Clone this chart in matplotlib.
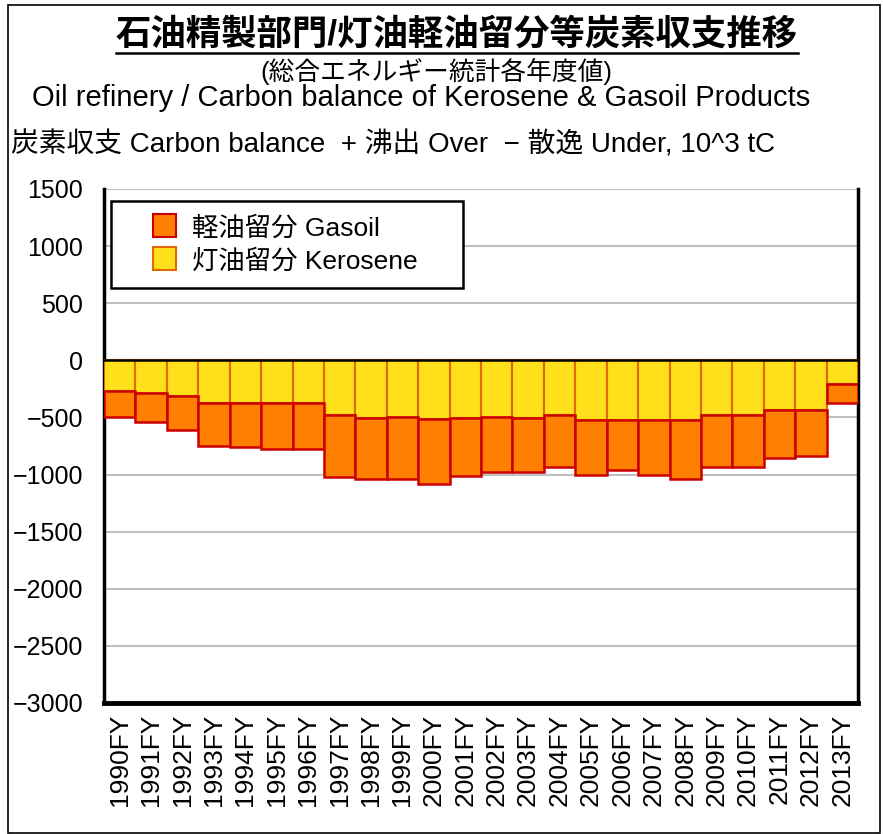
import matplotlib
matplotlib.use("Agg")
import matplotlib.pyplot as plt
from matplotlib.lines import Line2D
from matplotlib.patches import Rectangle

plt.rcParams['font.family'] = ['Liberation Sans', 'Noto Sans CJK JP']
plt.rcParams['axes.unicode_minus'] = True

years = [str(y) + "FY" for y in range(1990, 2014)]
# 灯油留分 (upper, yellow) and 軽油留分 (lower, orange), 10^3 tC
kerosene = [-270, -287, -310, -372, -372, -372, -372, -477, -501, -498, -516, -504,
            -498, -504, -477, -521, -521, -518, -521, -480, -480, -439, -439, -205]
gasoil = [-227, -255, -296, -381, -384, -401, -401, -542, -539, -542, -568, -513,
          -477, -471, -460, -481, -435, -484, -519, -457, -457, -416, -399, -167]
yticks = [1500, 1000, 500, 0, -500, -1000, -1500, -2000, -2500, -3000]
names = ['軽油留分 Gasoil', '灯油留分 Kerosene']
fills = ['#FF8000', '#FFE01A']
edges = ['#CC0000', '#E06A00']

W, H = 883, 834
fig = plt.figure(figsize=(8.83, 8.34), dpi=100)
ax = fig.add_axes([104/W, 1 - 703/H, (858 - 104)/W, (703 - 189)/H])

x = list(range(len(years)))
ax.bar(x, kerosene, width=1.0, color=fills[1], edgecolor=edges[1], linewidth=1.5, zorder=3)
ax.bar(x, gasoil, width=1.0, bottom=kerosene, color=fills[0], edgecolor=edges[0],
       linewidth=1.8, zorder=3)
ax.axhline(0, color='black', lw=1.8, zorder=4)

ax.set_xlim(-0.5, len(years) - 0.5)
ax.set_ylim(-3000, 1500)
ax.set_yticks(yticks)
ax.set_yticklabels([f"{v}".replace('-', '\u2212') for v in yticks], fontsize=18)
ax.set_xticks(x)
ax.set_xticklabels(years, rotation=90, fontsize=19)
ax.tick_params(axis='both', length=0)
ax.tick_params(axis='y', pad=15)
ax.tick_params(axis='x', pad=8)
ax.yaxis.grid(True, color='#C0C0C0', lw=1.5, zorder=0)
ax.set_axisbelow(True)

for s in ['left', 'right']:
    ax.spines[s].set_linewidth(2.5)
ax.spines['bottom'].set_linewidth(3.5)
ax.spines['top'].set_visible(False)

# legend box drawn by hand (pixel layout of the original)
def fx(px):
    return px / W

def fy(py):
    return 1 - py / H

fig.add_artist(Rectangle((fx(111), fy(288)), fx(463) - fx(111), fy(201) - fy(288),
                         facecolor='white', edgecolor='black', lw=1.8,
                         transform=fig.transFigure, zorder=5))
for i, (nm, fc, ec) in enumerate(zip(names, fills, edges)):
    top = 214 + i * 33
    fig.add_artist(Rectangle((fx(153), fy(top + 23)), fx(176) - fx(153), fy(top) - fy(top + 23),
                             facecolor=fc, edgecolor=ec, lw=1.5,
                             transform=fig.transFigure, zorder=6))
    fig.text(fx(192), fy(top + 14), nm, ha='left', va='center', fontsize=19, zorder=6)

t = fig.text(0.517, fy(35), '石油精製部門/灯油軽油留分等炭素収支推移', ha='center', va='center',
             fontsize=25.5, fontweight='bold')
fig.text(0.494, fy(71), '(総合エネルギー統計各年度値)', ha='center', va='center', fontsize=18.5)
fig.text(0.036, fy(98), 'Oil refinery / Carbon balance of Kerosene & Gasoil Products',
         ha='left', va='center', fontsize=21)
fig.text(0.012, fy(145), '炭素収支 Carbon balance  + 沸出 Over  \u2212 散逸 Under, 10^3 tC',
         ha='left', va='center', fontsize=20)

# underline the title
fig.canvas.draw()
bb = t.get_window_extent().transformed(fig.transFigure.inverted())
fig.add_artist(Line2D([bb.x0, bb.x1], [fy(53), fy(53)], color='black', lw=1.8))

# outer border
fig.add_artist(Rectangle((8/W, 1/H), 872/W, 828/H, fill=False, edgecolor='black',
                         lw=1.2, transform=fig.transFigure))

fig.savefig('out.png', dpi=100)
